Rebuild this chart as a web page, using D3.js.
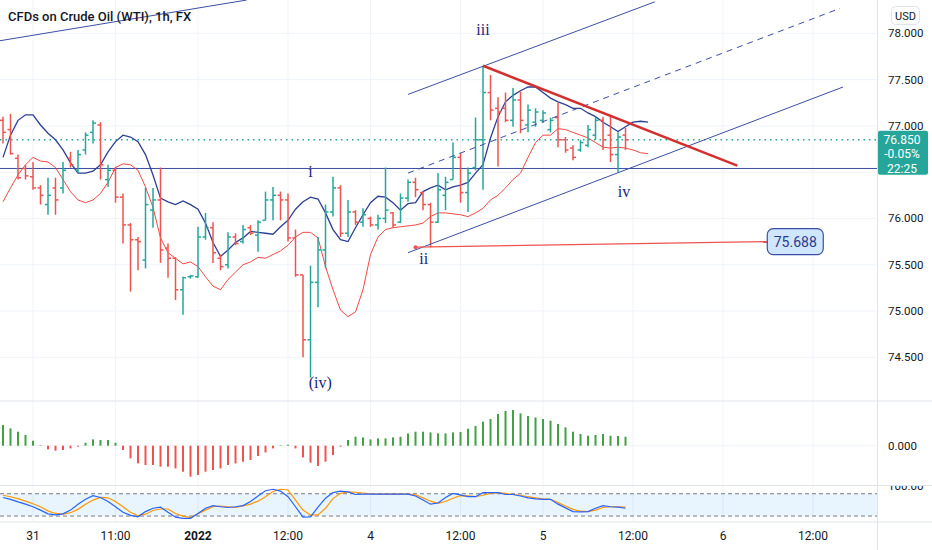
<!DOCTYPE html>
<html lang="en">
<head>
	<meta charset="UTF-8">
	<style>
	body { margin: 0; background: #ffffff; }
	svg { display: block; font-family: Roboto, "Noto Sans", sans-serif; }
	</style>
	<script src="https://d3js.org/d3.v7.min.js"></script>
	<title>CFDs on Crude Oil (WTI), 1h</title>
</head>
<body>
	<div id="chart">
		<script>
			// OHLC bars, one per hour
			const opens = [77.06,76.96,76.65,76.54,76.45,76.33,76.15,76.33,76.33,76.65,76.52,76.74,76.93,77.01,76.42,76.52,76.23,75.93,75.77,75.55,
				76.09,76.20,75.68,75.57,75.23,75.37,75.37,75.80,75.90,75.57,75.50,75.80,75.75,75.90,75.82,75.98,76.20,76.25,76.20,75.79,
				75.39,74.69,75.31,75.66,76.07,76.33,75.84,76.07,75.96,76.00,75.93,76.00,76.06,75.96,76.22,76.39,76.28,76.15,75.96,76.25,
				76.42,76.66,76.28,76.55,76.85,77.36,77.19,77.19,77.06,77.28,77.01,77.04,77.06,76.96,77.09,76.85,76.76,76.74,76.79,76.90,
				77.06,76.90,76.69,76.90];
			const highs = [77.10,77.13,76.69,76.58,76.61,76.36,76.44,76.44,76.61,76.72,76.74,76.93,77.06,77.04,76.58,76.56,76.27,75.95,75.80,76.33,
				76.33,76.55,75.73,75.58,75.37,75.39,75.91,76.06,75.96,75.61,75.85,75.84,75.93,75.93,75.98,76.29,76.34,76.29,76.27,75.88,
				75.39,75.49,75.80,76.15,76.45,76.36,76.20,76.09,76.11,76.02,76.04,76.55,76.07,76.27,76.42,76.44,76.29,76.17,76.49,76.45,
				76.82,76.71,76.55,77.09,77.65,77.55,77.31,77.36,77.41,77.37,77.23,77.19,77.17,77.09,77.25,76.88,76.79,76.85,77.01,77.10,
				77.10,77.10,76.93,76.98];
			const lows = [76.81,76.69,76.42,76.42,76.31,76.15,76.04,76.04,76.27,76.55,76.49,76.69,76.81,76.42,76.34,76.17,75.73,75.21,75.44,75.46,
				75.90,75.52,75.36,75.12,74.96,75.35,75.36,75.77,75.52,75.44,75.46,75.71,75.73,75.82,75.64,75.98,75.98,75.98,75.75,75.37,
				74.50,74.28,75.04,75.46,76.02,75.80,75.80,75.93,75.91,75.91,75.88,75.95,75.90,75.95,76.18,76.23,76.09,75.688,75.95,76.09,
				76.42,76.17,76.07,76.52,76.31,77.06,76.56,77.04,76.99,76.92,76.93,76.99,77.03,76.93,76.77,76.71,76.63,76.72,76.77,76.85,
				76.74,76.61,76.50,76.74];
			const closes = [76.93,76.70,76.44,76.46,76.33,76.25,76.25,76.20,76.52,76.58,76.69,76.90,77.03,76.58,76.52,76.23,75.93,75.77,75.75,76.15,
				76.20,75.66,75.57,75.23,75.36,75.38,75.80,75.90,75.63,75.48,75.80,75.73,75.88,75.84,75.96,76.20,76.25,76.20,75.79,75.39,
				74.69,75.31,75.66,76.07,76.33,75.84,76.07,75.96,76.04,75.93,76.00,76.09,75.93,76.22,76.39,76.31,76.15,75.96,76.31,76.39,
				76.66,76.28,76.49,76.85,77.36,77.17,77.15,77.06,77.28,77.06,77.17,77.15,77.14,77.06,76.85,76.74,76.66,76.82,76.96,77.06,
				76.85,76.69,76.88,76.85];

			// Two displaced moving averages (3 bars ahead of price)
			const maFast = [76.66,76.90,77.06,77.12,77.12,77.01,76.92,76.85,76.74,76.60,76.49,76.49,76.51,76.58,76.72,76.83,76.90,76.88,76.83,76.69,
				76.47,76.22,76.18,76.15,76.19,76.15,76.10,75.95,75.74,75.59,75.66,75.74,75.79,75.86,75.85,75.84,75.83,75.91,75.98,76.10,
				76.18,76.23,76.21,76.06,75.88,75.77,75.75,75.90,76.04,76.17,76.24,76.23,76.17,76.09,76.16,76.17,76.29,76.33,76.36,76.31,
				76.34,76.36,76.39,76.49,76.58,76.87,77.10,77.26,77.33,77.38,77.42,77.42,77.36,77.30,77.26,77.23,77.19,77.19,77.14,77.10,
				77.04,76.99,76.94,76.99,77.04,77.05,77.04];
			const maSlow = [76.18,76.33,76.47,76.58,76.66,76.62,76.61,76.55,76.42,76.29,76.20,76.17,76.20,76.27,76.39,76.55,76.59,76.58,76.52,76.34,
				76.12,75.79,75.63,75.57,75.51,75.53,75.48,75.37,75.27,75.23,75.34,75.42,75.50,75.53,75.58,75.57,75.61,75.65,75.71,75.80,
				75.85,75.85,75.79,75.48,75.23,75.01,74.94,74.99,75.23,75.61,75.80,75.88,75.90,75.91,75.92,75.93,75.95,76.02,76.06,76.06,
				76.05,76.04,76.02,76.06,76.11,76.20,76.25,76.33,76.42,76.49,76.66,76.82,76.90,76.90,76.97,76.96,76.93,76.90,76.87,76.82,
				76.77,76.76,76.77,76.76,76.74,76.71,76.70];

			// Oscillator histogram
			const histValues = [0.207,0.173,0.140,0.107,0.050,0.005,-0.037,-0.050,-0.043,-0.027,-0.010,0.030,0.063,0.057,0.057,0.030,-0.043,-0.127,-0.177,-0.193,
				-0.193,-0.210,-0.210,-0.227,-0.260,-0.310,-0.293,-0.260,-0.243,-0.227,-0.193,-0.177,-0.160,-0.143,-0.103,-0.067,-0.027,0.005,0.010,-0.027,
				-0.117,-0.170,-0.203,-0.160,-0.093,-0.010,0.057,0.090,0.083,0.063,0.073,0.073,0.083,0.090,0.123,0.140,0.140,0.133,0.123,0.123,
				0.133,0.137,0.170,0.197,0.240,0.267,0.317,0.347,0.357,0.323,0.297,0.283,0.267,0.250,0.217,0.183,0.140,0.117,0.100,0.107,
				0.117,0.100,0.097,0.090];

			// Stochastic %K and %D
			const stochK = [70,65,58,52,45,36,26,23,26,36,52,65,75,70,59,45,30,22,18,32,
				41,44,30,17,14,14,27,41,48,45,43,45,48,59,74,88,92,87,72,45,
				17,18,44,68,83,87,85,78,79,79,79,79,79,79,79,74,63,52,55,70,
				81,77,72,72,83,83,83,78,78,74,69,66,65,65,52,42,32,31,32,41,
				48,45,44,41];
			const stochD = [76,72,67,60,53,45,34,27,25,29,38,52,63,70,69,59,45,30,21,25,
				35,39,39,27,20,16,26,36,45,47,45,43,47,52,60,72,86,92,90,63,
				36,23,23,41,67,81,85,84,82,80,79,79,79,79,79,77,69,60,54,59,
				68,75,74,72,76,81,83,81,78,76,72,69,66,65,56,47,38,33,32,36,
				43,45,45,44];

			// Axis ticks
			const priceTicks = [74.5, 75.0, 75.5, 76.0, 76.5, 77.0, 77.5, 78.0];
			const timeTickIndex = [4, 15, 26, 38, 49, 61, 72, 84, 96, 108];
			const timeTickLabels = ["31", "11:00", "2022", "12:00", "4", "12:00", "5", "12:00", "6", "12:00"];

			// Drawings: [bar index, price] pairs
			const trendLines = [
				[[-0.4, 77.92], [32.5, 78.36]],
				[[54, 77.34], [86.9, 78.34]],
				[[54, 75.63], [112, 77.42]]
			];
			const dashedLine = [[54, 76.49], [111.6, 78.27]];
			const levelLine = 76.54;
			const wedgeLine = [[64, 77.65], [97.9, 76.57]];
			const markLine = [[55, 75.69], [101.9, 75.75]];
			const markPrice = "75.688";
			const waveLabels = [
				{ text: "iii", i: 64, p: 78.04 },
				{ text: "i", i: 41, p: 76.50 },
				{ text: "ii", i: 56.1, p: 75.56 },
				{ text: "iv", i: 82.8, p: 76.29 },
				{ text: "(iv)", i: 42.3, p: 74.22 }
			];
			const lastPrice = 76.85;
			const lastInfo = ["76.850", "-0.05%", "22:25"];

			// Layout
			const width = 932, height = 550;
			const plotRight = 877;
			const pricePane = { top: 0, bottom: 401 };
			const histPane = { top: 401, bottom: 485 };
			const stochPane = { top: 486, bottom: 522 };

			const up = "#26a69a", down = "#ef5350";
			const grid = "#f0f3fa";
			const textColor = "#131722";
			const drawBlue = "#3b4ea6";

			const canvas = d3.select("#chart")
				.append("svg")
				.attr("width", width)
				.attr("height", height);

			// Scales
			const x = d3.scaleLinear([-0.4, 116.53], [0, plotRight]);
			const y = d3.scaleLinear([74.028, 78.36], [pricePane.bottom, pricePane.top]);
			const yHist = d3.scaleLinear([-0.393, 0.447], [histPane.bottom, histPane.top]);
			const yStoch = d3.scaleLinear([0, 100], [523.5, 486.3]);

			const defs = canvas.append("defs");
			function addClip(id, left, right, top, bottom) {
				defs.append("clipPath").attr("id", id)
					.append("rect")
					.attr("x", left).attr("y", top)
					.attr("width", right - left).attr("height", bottom - top);
			}
			addClip("clipPrice", 0, plotRight, pricePane.top, pricePane.bottom);
			addClip("clipHist", 0, plotRight, histPane.top, histPane.bottom);
			addClip("clipStoch", 0, plotRight, stochPane.top, stochPane.bottom);
			addClip("clipStochAxis", plotRight, width, stochPane.top, stochPane.bottom);

			// Grid lines
			const gridG = canvas.append("g");
			gridG.selectAll("line.v")
				.data(timeTickIndex)
				.join("line")
				.attr("x1", d => x(d)).attr("x2", d => x(d))
				.attr("y1", 0).attr("y2", stochPane.bottom)
				.attr("stroke", grid);
			gridG.selectAll("line.h")
				.data(priceTicks)
				.join("line")
				.attr("x1", 0).attr("x2", plotRight)
				.attr("y1", d => y(d)).attr("y2", d => y(d))
				.attr("stroke", grid);
			gridG.append("line")
				.attr("x1", 0).attr("x2", plotRight)
				.attr("y1", yHist(0)).attr("y2", yHist(0))
				.attr("stroke", grid);

			// Pane separators and price axis border
			const sep = canvas.append("g").attr("stroke", "#e0e3eb");
			[histPane.top, stochPane.top - 0.5, stochPane.bottom].forEach(v => {
				sep.append("line").attr("x1", 0).attr("x2", width).attr("y1", v).attr("y2", v);
			});
			sep.append("line").attr("x1", plotRight + 0.5).attr("x2", plotRight + 0.5).attr("y1", 0).attr("y2", height);

			// Price pane
			const priceG = canvas.append("g").attr("clip-path", "url(#clipPrice)");

			// Level line "i" and current price line
			priceG.append("line")
				.attr("x1", 0).attr("x2", plotRight)
				.attr("y1", y(levelLine)).attr("y2", y(levelLine))
				.attr("stroke", drawBlue).attr("stroke-width", 1);
			priceG.append("line")
				.attr("x1", 0).attr("x2", plotRight)
				.attr("y1", y(lastPrice)).attr("y2", y(lastPrice))
				.attr("stroke", up).attr("stroke-width", 1.5)
				.attr("stroke-dasharray", "1.5,4");

			// Moving averages
			const maLine = d3.line().x((d, i) => x(i)).y(d => y(d));
			priceG.append("path").datum(maSlow)
				.attr("d", maLine).attr("fill", "none")
				.attr("stroke", "#f04a43").attr("stroke-width", 1);
			priceG.append("path").datum(maFast)
				.attr("d", maLine).attr("fill", "none")
				.attr("stroke", "#2b3f94").attr("stroke-width", 1.3);

			// OHLC bars
			const bars = priceG.append("g")
				.selectAll("g")
				.data(d3.range(opens.length))
				.join("g")
				.attr("stroke", i => closes[i] >= opens[i] ? up : down)
				.attr("stroke-width", 1.5);
			bars.append("line")
				.attr("x1", i => x(i)).attr("x2", i => x(i))
				.attr("y1", i => y(highs[i])).attr("y2", i => y(lows[i]));
			bars.append("line")
				.attr("x1", i => x(i) - 3).attr("x2", i => x(i))
				.attr("y1", i => y(opens[i])).attr("y2", i => y(opens[i]));
			bars.append("line")
				.attr("x1", i => x(i)).attr("x2", i => x(i) + 3)
				.attr("y1", i => y(closes[i])).attr("y2", i => y(closes[i]));

			// Channel and trend drawings
			const segLine = d3.line().x(d => x(d[0])).y(d => y(d[1]));
			priceG.selectAll("path.trend")
				.data(trendLines)
				.join("path")
				.attr("d", segLine)
				.attr("stroke", drawBlue).attr("stroke-width", 1).attr("fill", "none");
			priceG.append("path").datum(dashedLine)
				.attr("d", segLine)
				.attr("stroke", drawBlue).attr("stroke-width", 1)
				.attr("stroke-dasharray", "6,5").attr("fill", "none");
			priceG.append("path").datum(wedgeLine)
				.attr("d", segLine)
				.attr("stroke", "#d32f2f").attr("stroke-width", 2.5).attr("fill", "none");
			priceG.append("path").datum(markLine)
				.attr("d", segLine)
				.attr("stroke", "#ef5350").attr("stroke-width", 1.2).attr("fill", "none");
			priceG.append("circle")
				.attr("cx", x(markLine[0][0])).attr("cy", y(markLine[0][1]))
				.attr("r", 2).attr("fill", "#ef5350");

			// Price label box at the end of the red line
			const boxX = x(markLine[1][0]), boxY = y(markLine[1][1]);
			priceG.append("rect")
				.attr("x", boxX).attr("y", boxY - 13)
				.attr("width", 56).attr("height", 26).attr("rx", 6)
				.attr("fill", "#cfe6fc").attr("stroke", "#3b4ea6").attr("stroke-width", 1.2);
			priceG.append("text")
				.attr("x", boxX + 28).attr("y", boxY + 5)
				.attr("text-anchor", "middle")
				.attr("font-size", 14)
				.attr("fill", "#2a3a8f")
				.text(markPrice);

			// Wave labels
			priceG.selectAll("text.wave")
				.data(waveLabels)
				.join("text")
				.attr("x", d => x(d.i)).attr("y", d => y(d.p) + 5)
				.attr("text-anchor", "middle")
				.attr("font-family", "'Liberation Serif', 'DejaVu Serif', serif")
				.attr("font-size", 16)
				.attr("fill", "#1a237e")
				.text(d => d.text);

			// Title
			canvas.append("text")
				.attr("x", 8).attr("y", 21)
				.attr("font-size", 13).attr("font-weight", 500)
				.attr("fill", textColor)
				.text("CFDs on Crude Oil (WTI), 1h, FX");

			// Histogram pane
			canvas.append("g").attr("clip-path", "url(#clipHist)")
				.selectAll("line")
				.data(histValues)
				.join("line")
				.attr("x1", (d, i) => x(i)).attr("x2", (d, i) => x(i))
				.attr("y1", yHist(0)).attr("y2", d => yHist(d))
				.attr("stroke", d => d >= 0 ? "#43a047" : "#ef5350")
				.attr("stroke-width", 2);

			// Stochastic pane
			const stochG = canvas.append("g").attr("clip-path", "url(#clipStoch)");
			stochG.append("rect")
				.attr("x", 0).attr("y", yStoch(80))
				.attr("width", plotRight).attr("height", yStoch(20) - yStoch(80))
				.attr("fill", "rgba(33,150,243,0.1)");
			[80, 20].forEach(v => {
				stochG.append("line")
					.attr("x1", 0).attr("x2", plotRight)
					.attr("y1", yStoch(v)).attr("y2", yStoch(v))
					.attr("stroke", "#787b86").attr("stroke-dasharray", "4,3");
			});
			const stochLine = d3.line().x((d, i) => x(i)).y(d => yStoch(d));
			stochG.append("path").datum(stochD)
				.attr("d", stochLine).attr("fill", "none")
				.attr("stroke", "#ff9800").attr("stroke-width", 1.2);
			stochG.append("path").datum(stochK)
				.attr("d", stochLine).attr("fill", "none")
				.attr("stroke", "#2962ff").attr("stroke-width", 1.2);

			// Right price axis (the tick hidden behind the last price badge is skipped)
			const lastY = y(lastPrice);
			const visibleTicks = priceTicks.filter(d => Math.abs(y(d) - (lastY + 13)) > 24);
			const axisG = canvas.append("g")
				.attr("font-size", 11.5).attr("fill", textColor);
			axisG.selectAll("text.p")
				.data(visibleTicks)
				.join("text")
				.attr("x", 888).attr("y", d => y(d) + 4)
				.text(d => d3.format(".3f")(d));
			axisG.append("text")
				.attr("x", 888).attr("y", yHist(0) + 4)
				.text("0.000");
			axisG.append("text")
				.attr("clip-path", "url(#clipStochAxis)")
				.attr("x", 888).attr("y", yStoch(100) + 4)
				.text("100.00");

			// USD badge
			canvas.append("rect")
				.attr("x", 891.5).attr("y", 6.5).attr("width", 28).attr("height", 18).attr("rx", 4)
				.attr("fill", "#ffffff").attr("stroke", "#e0e3eb");
			canvas.append("text")
				.attr("x", 905.5).attr("y", 19.5).attr("text-anchor", "middle")
				.attr("font-size", 11).attr("fill", textColor)
				.text("USD");

			// Last price badge
			canvas.append("rect")
				.attr("x", plotRight + 1).attr("y", lastY - 9)
				.attr("width", 50).attr("height", 44).attr("rx", 2)
				.attr("fill", up);
			canvas.selectAll("text.last")
				.data(lastInfo)
				.join("text")
				.attr("x", 902).attr("y", (d, i) => lastY + 4 + i * 14.5)
				.attr("text-anchor", "middle")
				.attr("font-size", 12).attr("fill", "#ffffff")
				.text(d => d);

			// Time axis
			canvas.selectAll("text.t")
				.data(timeTickIndex)
				.join("text")
				.attr("x", d => x(d)).attr("y", 540)
				.attr("text-anchor", "middle")
				.attr("font-size", 12)
				.attr("font-weight", (d, i) => timeTickLabels[i] === "2022" ? 700 : 400)
				.attr("fill", textColor)
				.text((d, i) => timeTickLabels[i]);
		</script>
	</div>
</body>
</html>
